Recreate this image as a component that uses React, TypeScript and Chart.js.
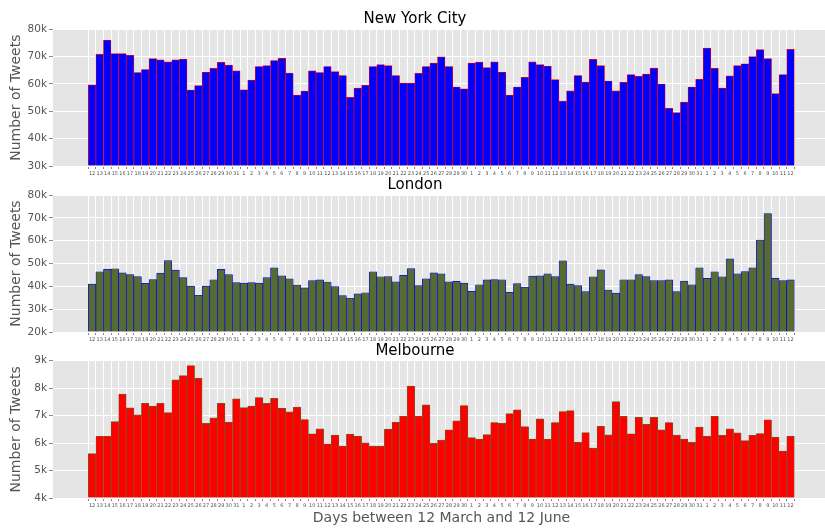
import React, { useEffect, useRef } from 'react';
import { Chart, registerables } from 'chart.js';

Chart.register(...registerables);
Chart.defaults.font.family = "'DejaVu Sans', sans-serif";

// Day tick labels: 12 March .. 12 June
const marchDays = ['12','13','14','15','16','17','18','19','20','21','22','23','24','25','26','27','28','29','30','31'];
const aprilDays = ['1','2','3','4','5','6','7','8','9','10','11','12','13','14','15','16','17','18','19','20','21','22','23','24','25','26','27','28','29','30'];
const mayDays = ['1','2','3','4','5','6','7','8','9','10','11','12','13','14','15','16','17','18','19','20','21','22','23','24','25','26','27','28','29','30','31'];
const juneDays = ['1','2','3','4','5','6','7','8','9','10','11','12'];
const dayLabels = [...marchDays, ...aprilDays, ...mayDays, ...juneDays];

// Tweets per day, in thousands
const nycMarch = [59.7, 70.8, 76.0, 71.1, 71.1, 70.5, 64.2, 65.3, 69.3, 68.8, 68.1, 68.8, 69.1, 57.8, 59.4, 64.3, 65.7, 67.9, 66.9, 64.8];
const nycApril = [57.9, 61.4, 66.4, 66.7, 68.6, 69.4, 64.0, 55.9, 57.4, 64.8, 64.2, 66.4, 64.5, 63.1, 55.1, 58.5, 59.5, 66.4, 67.1, 66.7, 63.1, 60.3, 60.3, 63.9, 66.4, 67.6, 69.9, 66.4, 58.9, 58.2];
const nycMay = [67.6, 68.0, 66.0, 68.1, 64.3, 55.9, 58.9, 62.4, 68.1, 67.1, 66.5, 61.6, 53.7, 57.5, 63.1, 60.7, 69.0, 66.7, 61.1, 57.5, 60.6, 63.4, 62.8, 63.6, 65.8, 60.0, 51.1, 49.5, 53.4, 58.9, 61.7];
const nycJune = [73.1, 65.7, 58.5, 63.0, 66.7, 67.4, 70.0, 72.6, 69.3, 56.5, 63.4, 72.7];

const londonMarch = [41.0, 46.4, 47.4, 47.7, 45.9, 45.2, 44.3, 41.3, 43.0, 45.8, 51.3, 47.1, 43.8, 40.1, 36.1, 40.1, 42.9, 47.4, 45.1, 41.6];
const londonApril = [41.4, 41.6, 41.4, 43.8, 48.1, 44.6, 43.3, 40.6, 39.3, 42.5, 42.8, 41.9, 39.9, 35.9, 34.8, 36.7, 37.2, 46.4, 44.2, 44.3, 42.0, 44.8, 47.8, 40.3, 43.3, 45.9, 45.5, 42.0, 42.2, 41.4];
const londonMay = [37.8, 40.7, 42.8, 43.0, 42.9, 37.4, 41.2, 39.6, 44.5, 44.6, 45.5, 44.3, 51.2, 41.0, 40.3, 37.7, 44.2, 47.2, 38.4, 37.0, 42.9, 42.9, 45.1, 44.3, 42.5, 42.5, 42.8, 37.7, 42.3, 40.7, 48.1];
const londonJune = [43.5, 46.4, 44.2, 52.0, 45.5, 46.5, 48.1, 60.3, 71.9, 43.5, 42.5, 42.8];

const melbMarch = [5.62, 6.25, 6.25, 6.78, 7.78, 7.28, 7.03, 7.45, 7.35, 7.45, 7.11, 8.30, 8.46, 8.82, 8.36, 6.72, 6.92, 7.45, 6.76, 7.61];
const melbApril = [7.29, 7.35, 7.66, 7.45, 7.63, 7.27, 7.14, 7.31, 6.86, 6.34, 6.52, 5.97, 6.29, 5.89, 6.33, 6.25, 6.01, 5.89, 5.89, 6.51, 6.76, 6.98, 8.08, 6.98, 7.39, 5.99, 6.11, 6.48, 6.81, 7.37];
const melbMay = [6.20, 6.14, 6.31, 6.75, 6.72, 7.07, 7.21, 6.60, 6.15, 6.88, 6.14, 6.75, 7.15, 7.18, 6.03, 6.38, 5.82, 6.61, 6.30, 7.51, 6.97, 6.34, 6.94, 6.68, 6.94, 6.48, 6.75, 6.29, 6.15, 6.03, 6.58];
const melbJune = [6.25, 6.97, 6.28, 6.52, 6.37, 6.09, 6.28, 6.35, 6.85, 6.22, 5.71, 6.25];

const nycValues = [...nycMarch, ...nycApril, ...nycMay, ...nycJune];
const londonValues = [...londonMarch, ...londonApril, ...londonMay, ...londonJune];
const melbValues = [...melbMarch, ...melbApril, ...melbMay, ...melbJune];

const yLabel = 'Number of Tweets';
const xLabel = 'Days between 12 March and 12 June';

const CANVAS_W = 830;
const X_MIN = -5.15;
const X_MAX = 97.2;

const panelBg = {
  id: 'panelBg',
  beforeDraw(chart: any) {
    const { ctx, chartArea: a } = chart;
    ctx.save();
    ctx.fillStyle = '#e5e5e5';
    ctx.fillRect(a.left, a.top, a.right - a.left, a.bottom - a.top);
    ctx.restore();
  },
};

type PanelProps = {
  title: string;
  values: number[];
  yMin: number;
  yMax: number;
  step: number;
  fill: string;
  edge: string;
  top: number;
  height: number;
  xAxisHeight: number;
  titlePadTop: number;
  titlePadBottom: number;
  showXTitle: boolean;
};

function Panel(p: PanelProps) {
  const ref = useRef<HTMLCanvasElement | null>(null);
  useEffect(() => {
    if (!ref.current) return;
    const chart = new Chart(ref.current, {
      type: 'bar',
      data: {
        datasets: [
          {
            data: p.values.map((v, i) => ({ x: i, y: v })),
            backgroundColor: p.fill,
            borderColor: p.edge,
            borderWidth: 0.7,
            barPercentage: 1,
            categoryPercentage: 1,
            base: p.yMin,
          } as any,
        ],
      },
      options: {
        animation: false,
        responsive: false,
        devicePixelRatio: 1,
        layout: { padding: 0 },
        plugins: {
          legend: { display: false },
          tooltip: { enabled: false },
          title: {
            display: true,
            text: p.title,
            color: '#000',
            font: { size: 15, weight: 'normal' },
            padding: { top: p.titlePadTop, bottom: p.titlePadBottom },
          },
        },
        scales: {
          x: {
            type: 'linear',
            min: X_MIN,
            max: X_MAX,
            offset: false,
            afterBuildTicks: (scale: any) => {
              scale.ticks = dayLabels.map((_, i) => ({ value: i }));
            },
            afterFit: (scale: any) => {
              scale.height = p.xAxisHeight;
            },
            ticks: {
              autoSkip: false,
              maxRotation: 0,
              minRotation: 0,
              padding: 2,
              color: '#555',
              font: { size: 5 },
              callback: (val: any) => dayLabels[val as number] ?? '',
            },
            grid: {
              color: '#ffffff',
              lineWidth: 1,
              tickColor: '#888',
              tickLength: 3,
            },
            border: { display: false },
            title: {
              display: p.showXTitle,
              text: xLabel,
              color: '#555',
              font: { size: 14 },
              padding: { top: 0, bottom: 2.6 },
            },
          },
          y: {
            type: 'linear',
            min: p.yMin,
            max: p.yMax,
            afterFit: (scale: any) => {
              scale.width = 53;
            },
            ticks: {
              stepSize: p.step,
              padding: 2,
              color: '#555',
              font: { size: 10.5 },
              callback: (v: any) => `${v}k`,
            },
            grid: {
              color: '#ffffff',
              lineWidth: 1,
              tickColor: '#888',
              tickLength: 4,
            },
            border: { display: false },
            title: {
              display: true,
              text: yLabel,
              color: '#555',
              font: { size: 14 },
              padding: { top: 8.3, bottom: 0 },
            },
          },
        },
      } as any,
      plugins: [panelBg],
    });
    return () => chart.destroy();
  }, []);
  return (
    <canvas
      ref={ref}
      width={CANVAS_W}
      height={p.height}
      style={{ position: 'absolute', left: 0, top: p.top, width: CANVAS_W, height: p.height }}
    />
  );
}

export default function App() {
  return (
    <div
      style={{
        position: 'absolute',
        left: 0,
        top: 0,
        width: 825,
        height: 529,
        overflow: 'hidden',
        background: '#ffffff',
      }}
    >
      <Panel
        title="New York City"
        values={nycValues}
        yMin={30}
        yMax={80}
        step={10}
        fill="#0000ff"
        edge="#ff0000"
        top={0}
        height={180}
        xAxisHeight={14}
        titlePadTop={10.5}
        titlePadBottom={0.8}
        showXTitle={false}
      />
      <Panel
        title="London"
        values={londonValues}
        yMin={20}
        yMax={80}
        step={10}
        fill="#556b2f"
        edge="#0000ff"
        top={170}
        height={176}
        xAxisHeight={14}
        titlePadTop={6.2}
        titlePadBottom={0.8}
        showXTitle={false}
      />
      <Panel
        title="Melbourne"
        values={melbValues}
        yMin={4}
        yMax={9}
        step={1}
        fill="#ff0000"
        edge="#556b2f"
        top={336}
        height={193}
        xAxisHeight={31}
        titlePadTop={6.2}
        titlePadBottom={0.5}
        showXTitle={true}
      />
    </div>
  );
}
